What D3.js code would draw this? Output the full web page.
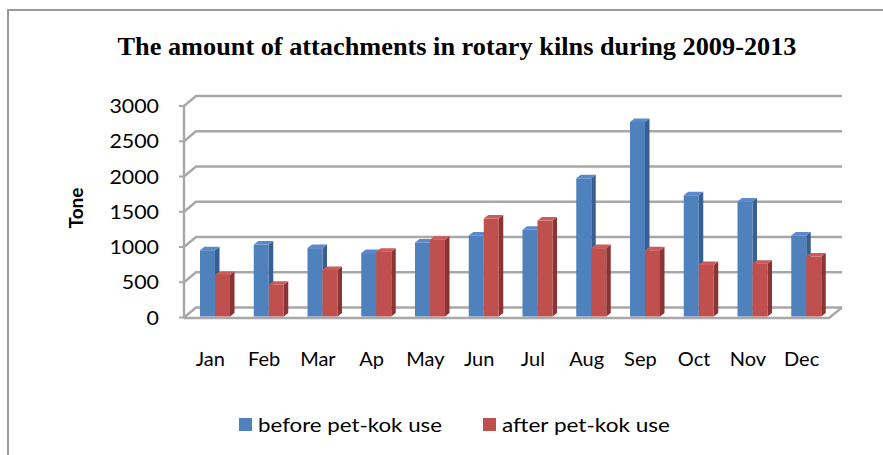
<!DOCTYPE html>
<html>
<head>
<meta charset="utf-8">
<script src="https://cdn.jsdelivr.net/npm/d3@7"></script>
<style>
  html, body { margin: 0; padding: 0; background: #fff; }
  svg { display: block; }
</style>
</head>
<body>
<div id="chart"></div>
<script>
const months = ["Jan","Feb","Mar","Ap","May","Jun","Jul","Aug","Sep","Oct","Nov","Dec"];
const beforeVals = [940, 1020, 970, 900, 1050, 1150, 1230, 1960, 2760, 1720, 1630, 1150];
const afterVals  = [590, 450, 660, 920, 1090, 1390, 1360, 970, 940, 730, 750, 850];
const yTicks = [0, 500, 1000, 1500, 2000, 2500, 3000];
const seriesNames = ["before pet-kok use", "after pet-kok use"];
const titleText = "The amount of attachments in rotary kilns during 2009-2013";
const yTitle = "Tone";

const W = 883, H = 455;
const svg = d3.select("#chart").append("svg").attr("width", W).attr("height", H);
svg.append("rect").attr("width", W).attr("height", H).attr("fill", "#fff");

// outer border (left and top visible)
svg.append("path").attr("d", `M8,${H} L8,10 L${W},10`)
  .attr("fill", "none").attr("stroke", "#9a9a9a").attr("stroke-width", 2);

// title
svg.append("text").attr("x", 457).attr("y", 55)
  .attr("text-anchor", "middle")
  .attr("font-family", "'Liberation Serif', 'Times New Roman', serif")
  .attr("font-weight", "bold").attr("font-size", 25)
  .attr("textLength", 679).attr("lengthAdjust", "spacingAndGlyphs")
  .text(titleText);

// scales
const x0 = 184, x1 = 829;
const x = d3.scaleBand().domain(months).range([x0, x1]);
const y = d3.scaleLinear().domain([0, 3000]).range([317.5, 106]);
const baseY = 316.5;
const dX = 12, dY = -10;   // wall depth
const bX = 4.5, bY = -3.5; // bar depth

const gridColor = "#a8a8a8";
const g = svg.append("g");

// back wall gridlines + side wall diagonals
yTicks.forEach(t => {
  const yy = y(t);
  g.append("path")
    .attr("d", `M${x0},${yy} L${x0 + dX},${yy + dY} L${x1 + dX + 1},${yy + dY}`)
    .attr("fill", "none").attr("stroke", gridColor).attr("stroke-width", 2.4);
  g.append("line").attr("x1", x0 - 5).attr("x2", x0).attr("y1", yy).attr("y2", yy)
    .attr("stroke", gridColor).attr("stroke-width", 2);
});
// floor front edge & right edge
g.append("path")
  .attr("d", `M${x0},${y(0) + 0.5} L${x1},${y(0) + 0.5} L${x1 + dX + 1},${y(0) + dY}`)
  .attr("fill", "none").attr("stroke", gridColor).attr("stroke-width", 2.4);
// vertical axis line
g.append("line").attr("x1", x0).attr("x2", x0).attr("y1", y(3000)).attr("y2", y(0) + 1)
  .attr("stroke", gridColor).attr("stroke-width", 2.4);

// y tick labels
yTicks.forEach(t => {
  const s = String(t);
  svg.append("text").attr("x", 159).attr("y", y(t) + 7)
    .attr("text-anchor", "end")
    .attr("font-family", "Lato, 'Open Sans', sans-serif").attr("font-size", 19)
    .attr("textLength", s.length * 12.4).attr("lengthAdjust", "spacingAndGlyphs")
    .attr("fill", "#000")
    .text(s);
});

// y title
svg.append("text").attr("transform", "translate(83,208) rotate(-90)")
  .attr("text-anchor", "middle")
  .attr("font-family", "Lato, 'Open Sans', sans-serif").attr("font-weight", "bold")
  .attr("font-size", 19).attr("fill", "#000")
  .text(yTitle);

// bars
const colors = [
  { front: "#4F81BD", top: "#5A8ACB", side: "#385F90" },
  { front: "#C0504D", top: "#CB5B58", side: "#8A3533" }
];
const barW = 15;
const barOffset = 16;
function drawBar(xl, v, c) {
  const yt = baseY - (y(0) - y(v));
  const xr = xl + barW;
  const bar = g.append("g");
  bar.append("path")
    .attr("d", `M${xr},${baseY} L${xr + bX},${baseY + bY} L${xr + bX},${yt + bY} L${xr},${yt} Z`)
    .attr("fill", c.side);
  bar.append("path")
    .attr("d", `M${xl},${yt} L${xl + bX},${yt + bY} L${xr + bX},${yt + bY} L${xr},${yt} Z`)
    .attr("fill", c.top);
  bar.append("rect").attr("x", xl).attr("y", yt).attr("width", barW).attr("height", baseY - yt)
    .attr("fill", c.front);
}
months.forEach((m, i) => {
  const xs = x(m) + barOffset;
  drawBar(xs, beforeVals[i], colors[0]);
  drawBar(xs + barW, afterVals[i], colors[1]);
});

// x labels
months.forEach(m => {
  svg.append("text").attr("x", x(m) + x.bandwidth() / 2 - 0.5).attr("y", 366)
    .attr("text-anchor", "middle")
    .attr("font-family", "Lato, 'Open Sans', sans-serif").attr("font-size", 20)
    .attr("fill", "#000")
    .text(m);
});

// legend
const legend = [
  { name: seriesNames[0], sx: 239, tx: 258, tw: 184, c: colors[0].front },
  { name: seriesNames[1], sx: 483, tx: 502, tw: 168, c: colors[1].front }
];
legend.forEach(l => {
  svg.append("rect").attr("x", l.sx).attr("y", 418).attr("width", 13).attr("height", 13).attr("fill", l.c);
  svg.append("text").attr("x", l.tx).attr("y", 432)
    .attr("font-family", "Lato, 'Open Sans', sans-serif").attr("font-size", 20)
    .attr("textLength", l.tw).attr("lengthAdjust", "spacingAndGlyphs")
    .attr("fill", "#000")
    .text(l.name);
});
</script>
</body>
</html>
